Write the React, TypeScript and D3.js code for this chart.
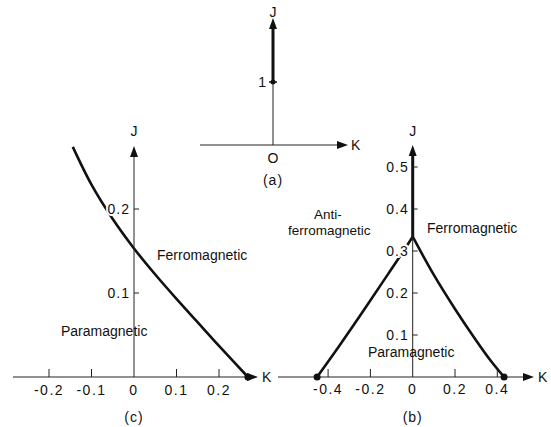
import React from "react";
import * as d3 from "d3";

// panel (c)
const cKTicks = [-0.2, -0.1, 0, 0.1, 0.2];
const cKLabels = ["-0.2", "-0.1", "0", "0.1", "0.2"];
const cJTicks = [0.1, 0.2];
const cJLabels = ["0.1", "0.2"];
const cCurveK = [-0.144, -0.1, -0.05, 0.0, 0.05, 0.1, 0.15, 0.2, 0.268];
const cCurveJ = [0.274, 0.229, 0.188, 0.153, 0.122, 0.093, 0.065, 0.037, 0.0];

// panel (b)
const bKTicks = [-0.4, -0.2, 0, 0.2, 0.4];
const bKLabels = ["-0.4", "-0.2", "0", "0.2", "0.4"];
const bJTicks = [0.1, 0.2, 0.3, 0.4, 0.5];
const bJLabels = ["0.1", "0.2", "0.3", "0.4", "0.5"];
const bLeftK = [-0.452, -0.35, -0.25, -0.15, -0.075, 0.0];
const bLeftJ = [0.0, 0.072, 0.145, 0.22, 0.276, 0.334];
const bRightK = [0.0, 0.1, 0.2, 0.3, 0.37, 0.432];
const bRightJ = [0.334, 0.243, 0.162, 0.087, 0.038, 0.0];
const bTopJ = [0.334, 0.56];

// panel (a)
const aJTicks = [1];
const aTopJ = [1, 2];

const font = "'Liberation Sans', Arial, Helvetica, sans-serif";

const arrowUp = (x: number, y: number) => `${x},${y} ${x - 4},${y + 11} ${x + 4},${y + 11}`;
const arrowRight = (x: number, y: number) => `${x},${y} ${x - 11},${y - 4} ${x - 11},${y + 4}`;

const halo = { stroke: "#fff", strokeWidth: 4, paintOrder: "stroke" as const };

export default function App() {
  // scales
  const xC = d3.scaleLinear().domain([0, 0.1]).range([134, 176.5]);
  const yC = d3.scaleLinear().domain([0, 0.1]).range([377, 293]);
  const xB = d3.scaleLinear().domain([0, 0.2]).range([412.7, 455]);
  const yB = d3.scaleLinear().domain([0, 0.1]).range([377, 335]);
  const xA = d3.scaleLinear().domain([0, 1]).range([273, 336]);
  const yA = d3.scaleLinear().domain([0, 1]).range([145, 82]);

  const lineC = d3.line<number>().x((k) => xC(k)).y((_, i) => yC(cCurveJ[i])).curve(d3.curveCatmullRom);
  const lineBL = d3.line<number>().x((k) => xB(k)).y((_, i) => yB(bLeftJ[i])).curve(d3.curveCatmullRom);
  const lineBR = d3.line<number>().x((k) => xB(k)).y((_, i) => yB(bRightJ[i])).curve(d3.curveCatmullRom);

  const cx0 = xC(0), cy0 = yC(0);
  const bx0 = xB(0), by0 = yB(0);
  const ax0 = xA(0), ay0 = yA(0);

  return (
    <svg width={551} height={427} style={{ position: "absolute", left: 0, top: 0, background: "#fff" }} fontFamily={font} fill="#111">
      {/* ---------- panel (a) ---------- */}
      <g>
        <line x1={200} x2={340} y1={ay0} y2={ay0} stroke="#222" strokeWidth={1} />
        <polygon points={arrowRight(348, ay0)} />
        <text x={351} y={ay0 + 5} fontSize={14}>K</text>
        <line x1={ax0} x2={ax0} y1={ay0} y2={yA(1)} stroke="#222" strokeWidth={1} />
        <line x1={ax0} x2={ax0} y1={yA(aTopJ[0])} y2={yA(aTopJ[1]) + 6} stroke="#111" strokeWidth={3} />
        <polygon points={arrowUp(ax0, 18)} />
        <text x={ax0} y={17} fontSize={14} textAnchor="middle">J</text>
        {aJTicks.map((t) => (
          <g key={t}>
            <line x1={ax0 - 4} x2={ax0 + 4} y1={yA(t)} y2={yA(t)} stroke="#111" strokeWidth={1.5} />
            <circle cx={ax0} cy={yA(t)} r={2.5} />
            <text x={ax0 - 7} y={yA(t) + 5} fontSize={14} textAnchor="end">{t}</text>
          </g>
        ))}
        <text x={ax0} y={ay0 + 18} fontSize={14} textAnchor="middle">O</text>
        <text x={ax0} y={ay0 + 40} fontSize={14} textAnchor="middle" letterSpacing={1}>(a)</text>
      </g>

      {/* ---------- panel (c) ---------- */}
      <g>
        <path d={lineC(cCurveK) || ""} fill="none" stroke="#111" strokeWidth={2.6} />
        <line x1={13} x2={250} y1={cy0} y2={cy0} stroke="#222" strokeWidth={1} />
        <polygon points={arrowRight(258, cy0)} />
        <text x={262} y={cy0 + 5} fontSize={14}>K</text>
        <line x1={cx0} x2={cx0} y1={cy0} y2={152} stroke="#222" strokeWidth={1} />
        <polygon points={arrowUp(cx0, 146)} />
        <text x={cx0} y={136} fontSize={14} textAnchor="middle">J</text>
        {cKTicks.map((t, i) => (
          <g key={t}>
            {t !== 0 && <line x1={xC(t)} x2={xC(t)} y1={cy0} y2={cy0 - 8} stroke="#222" strokeWidth={1} />}
            <text x={xC(t)} y={cy0 + 18} fontSize={14} textAnchor="middle" letterSpacing={1.5}>{cKLabels[i]}</text>
          </g>
        ))}
        {cJTicks.map((t, i) => (
          <g key={t}>
            <line x1={cx0} x2={cx0 + 5} y1={yC(t)} y2={yC(t)} stroke="#222" strokeWidth={1} />
            <text x={cx0 - 4} y={yC(t) + 5} fontSize={14} textAnchor="end" letterSpacing={1} {...halo} fill="#111">{cJLabels[i]}</text>
          </g>
        ))}
        <circle cx={xC(cCurveK[cCurveK.length - 1])} cy={cy0} r={3.5} />
        <text x={157} y={260} fontSize={14}>Ferromagnetic</text>
        <text x={61} y={336} fontSize={14}>Paramagnetic</text>
        <text x={cx0} y={cy0 + 45} fontSize={14} textAnchor="middle" letterSpacing={1}>(c)</text>
      </g>

      {/* ---------- panel (b) ---------- */}
      <g>
        <path d={lineBL(bLeftK) || ""} fill="none" stroke="#111" strokeWidth={2.6} />
        <path d={lineBR(bRightK) || ""} fill="none" stroke="#111" strokeWidth={2.6} />
        <line x1={278} x2={526} y1={by0} y2={by0} stroke="#222" strokeWidth={1} />
        <polygon points={arrowRight(534, by0)} />
        <text x={538} y={by0 + 5} fontSize={14}>K</text>
        <line x1={bx0} x2={bx0} y1={by0} y2={152} stroke="#222" strokeWidth={1} />
        <line x1={bx0} x2={bx0} y1={yB(bTopJ[0])} y2={152} stroke="#111" strokeWidth={3} />
        <polygon points={arrowUp(bx0, 145)} />
        <text x={bx0} y={136} fontSize={14} textAnchor="middle">J</text>
        {bKTicks.map((t, i) => (
          <g key={t}>
            {t !== 0 && <line x1={xB(t)} x2={xB(t)} y1={by0} y2={by0 - 8} stroke="#222" strokeWidth={1} />}
            <text x={xB(t)} y={by0 + 17} fontSize={14} textAnchor="middle" letterSpacing={1.5}>{bKLabels[i]}</text>
          </g>
        ))}
        {bJTicks.map((t, i) => (
          <g key={t}>
            <line x1={bx0} x2={bx0 + 5} y1={yB(t)} y2={yB(t)} stroke="#222" strokeWidth={1} />
            <text x={bx0 - 4} y={yB(t) + 5} fontSize={14} textAnchor="end" letterSpacing={1} {...halo} fill="#111">{bJLabels[i]}</text>
          </g>
        ))}
        <circle cx={xB(bLeftK[0])} cy={by0} r={3.5} />
        <circle cx={xB(bRightK[bRightK.length - 1])} cy={by0} r={3.5} />
        <text x={314} y={219} fontSize={13.5}>Anti-</text>
        <text x={288} y={235} fontSize={13.5}>ferromagnetic</text>
        <text x={427} y={233} fontSize={14}>Ferromagnetic</text>
        <text x={368} y={357} fontSize={14}>Paramagnetic</text>
        <text x={bx0} y={by0 + 45} fontSize={14} textAnchor="middle" letterSpacing={1}>(b)</text>
      </g>
    </svg>
  );
}
